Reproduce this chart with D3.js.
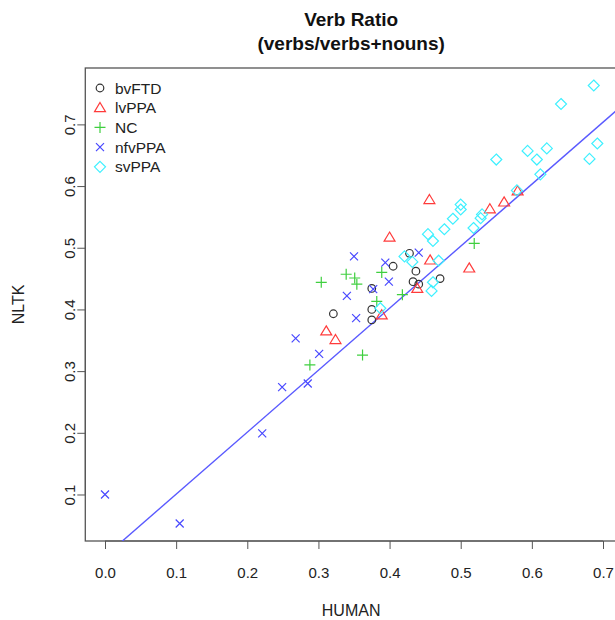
<!DOCTYPE html>
<html><head><meta charset="utf-8">
<script src="https://cdn.jsdelivr.net/npm/d3@7"></script>
<style>body{margin:0;background:#fff;} svg{display:block;font-family:"Liberation Sans",Arial,sans-serif;}</style>
</head><body>
<script>
const groups = ["bvFTD","lvPPA","NC","nfvPPA","svPPA"];
const groupColors = ["#333333","#ff3b3b","#3fcf3f","#4848ff","#3ff0ff"];
const bvFTD = [[0.321,0.393],[0.375,0.434],[0.375,0.400],[0.375,0.383],[0.405,0.470],[0.428,0.491],[0.437,0.462],[0.433,0.445],[0.441,0.441],[0.471,0.450]];
const lvPPA = [[0.311,0.365],[0.324,0.351],[0.389,0.391],[0.400,0.517],[0.439,0.434],[0.456,0.578],[0.457,0.480],[0.512,0.467],[0.541,0.563],[0.561,0.574],[0.580,0.592]];
const NC = [[0.304,0.444],[0.339,0.457],[0.351,0.451],[0.354,0.441],[0.288,0.310],[0.362,0.326],[0.389,0.460],[0.418,0.424],[0.382,0.413],[0.519,0.507]];
const nfvPPA = [[0.000,0.100],[0.105,0.053],[0.221,0.199],[0.249,0.274],[0.285,0.280],[0.268,0.353],[0.301,0.328],[0.340,0.422],[0.350,0.486],[0.353,0.386],[0.377,0.433],[0.394,0.476],[0.399,0.445],[0.441,0.492]];
const svPPA = [[0.387,0.402],[0.421,0.486],[0.432,0.477],[0.454,0.522],[0.461,0.511],[0.469,0.479],[0.461,0.444],[0.459,0.430],[0.477,0.530],[0.489,0.547],[0.500,0.562],[0.500,0.570],[0.518,0.532],[0.528,0.548],[0.530,0.554],[0.550,0.643],[0.579,0.593],[0.594,0.657],[0.607,0.643],[0.612,0.619],[0.621,0.661],[0.641,0.733],[0.681,0.644],[0.687,0.763],[0.692,0.669]];
const seriesData = [bvFTD, lvPPA, NC, nfvPPA, svPPA];
const xTicks = [0.0,0.1,0.2,0.3,0.4,0.5,0.6,0.7];
const yTicks = [0.1,0.2,0.3,0.4,0.5,0.6,0.7];
const fitLine = [0.0, 1.005]; // intercept, slope

(function(){
const W = 615, H = 620;
const FONT = "Liberation Sans, Arial, sans-serif";
const svg = d3.select("body").append("svg").attr("width", W).attr("height", H);

const x = d3.scaleLinear().domain([0, 0.7]).range([105, 603]);
const y = d3.scaleLinear().domain([0.0246, 0.7914]).range([541, 68]);
const xMin = -0.0277, xMax = 0.7197;
const pL = x(xMin), pR = x(xMax), pT = y(0.7914), pB = y(0.0246);

svg.append("clipPath").attr("id","clip").append("rect")
  .attr("x", pL).attr("y", pT).attr("width", pR-pL).attr("height", pB-pT);

const xAxis = d3.axisBottom(x).tickValues(xTicks).tickFormat(d3.format(".1f")).tickSize(8).tickPadding(18);
const gx = svg.append("g").attr("transform", `translate(0,${pB})`).call(xAxis);
gx.select(".domain").attr("d", `M${x(0)},0H${x(0.7)}`).attr("stroke","#555");
gx.selectAll(".tick line").attr("stroke","#555");
gx.selectAll("text").attr("font-size", 15).attr("fill","#222").attr("font-family",FONT);

const yAxis = d3.axisLeft(y).tickValues(yTicks).tickFormat(d3.format(".1f")).tickSize(8);
const gy = svg.append("g").attr("transform", `translate(${pL},0)`).call(yAxis);
gy.select(".domain").attr("d", `M0,${y(0.1)}V${y(0.7)}`).attr("stroke","#555");
gy.selectAll(".tick line").attr("stroke","#555");
gy.selectAll("text").attr("font-size", 15).attr("fill","#222").attr("font-family",FONT)
  .attr("text-anchor","middle").attr("dy", null)
  .attr("transform", "translate(-10,0) rotate(-90)")
  .attr("x", 0).attr("y", 0);

svg.append("rect").attr("x", pL).attr("y", pT).attr("width", pR-pL).attr("height", pB-pT)
  .attr("fill","none").attr("stroke","#555").attr("stroke-width",1.3);

const plot = svg.append("g").attr("clip-path","url(#clip)");
plot.append("line")
  .attr("x1", x(xMin)).attr("y1", y(fitLine[0] + fitLine[1]*xMin))
  .attr("x2", x(xMax)).attr("y2", y(fitLine[0] + fitLine[1]*xMax))
  .attr("stroke","#5a5aff").attr("stroke-width",1.4);

function drawSymbol(g, i, cx, cy, col) {
  if (i === 0) {
    g.append("circle").attr("cx",cx).attr("cy",cy).attr("r",3.8).attr("fill","none").attr("stroke",col).attr("stroke-width",1.2);
  } else if (i === 1) {
    const s = 5.2;
    g.append("path").attr("d",`M${cx},${cy-s}L${cx+s*1.05},${cy+s*0.75}L${cx-s*1.05},${cy+s*0.75}Z`)
      .attr("fill","none").attr("stroke",col).attr("stroke-width",1.2);
  } else if (i === 2) {
    const s = 5.5;
    g.append("path").attr("d",`M${cx-s},${cy}H${cx+s}M${cx},${cy-s}V${cy+s}`).attr("stroke",col).attr("stroke-width",1.2);
  } else if (i === 3) {
    const s = 4;
    g.append("path").attr("d",`M${cx-s},${cy-s}L${cx+s},${cy+s}M${cx-s},${cy+s}L${cx+s},${cy-s}`).attr("stroke",col).attr("stroke-width",1.2);
  } else {
    const s = 5.5;
    g.append("path").attr("d",`M${cx},${cy-s}L${cx+s},${cy}L${cx},${cy+s}L${cx-s},${cy}Z`)
      .attr("fill","none").attr("stroke",col).attr("stroke-width",1.2);
  }
}

seriesData.forEach((data, i) => {
  const g = plot.append("g");
  data.forEach(d => drawSymbol(g, i, x(d[0]), y(d[1]), groupColors[i]));
});

groups.forEach((name, i) => {
  const ly = 88 + i*19.7;
  drawSymbol(svg, i, 100, ly, groupColors[i]);
  svg.append("text").attr("x", 115).attr("y", ly).attr("dy","0.36em")
    .attr("font-size", 15.5).attr("fill","#222").text(name);
});

const cx = (pL + pR) / 2;
svg.append("text").attr("x", cx).attr("y", 26).attr("text-anchor","middle")
  .attr("font-size",19).attr("font-weight","bold").attr("fill","#111").text("Verb Ratio");
svg.append("text").attr("x", cx).attr("y", 50).attr("text-anchor","middle")
  .attr("font-size",19).attr("font-weight","bold").attr("fill","#111").text("(verbs/verbs+nouns)");
svg.append("text").attr("x", cx).attr("y", 616).attr("text-anchor","middle")
  .attr("font-size",16).attr("fill","#222").text("HUMAN");
svg.append("text").attr("transform", `translate(24,${(pT+pB)/2}) rotate(-90)`).attr("text-anchor","middle")
  .attr("font-size",16).attr("fill","#222").text("NLTK");
})();
</script>
</body></html>
